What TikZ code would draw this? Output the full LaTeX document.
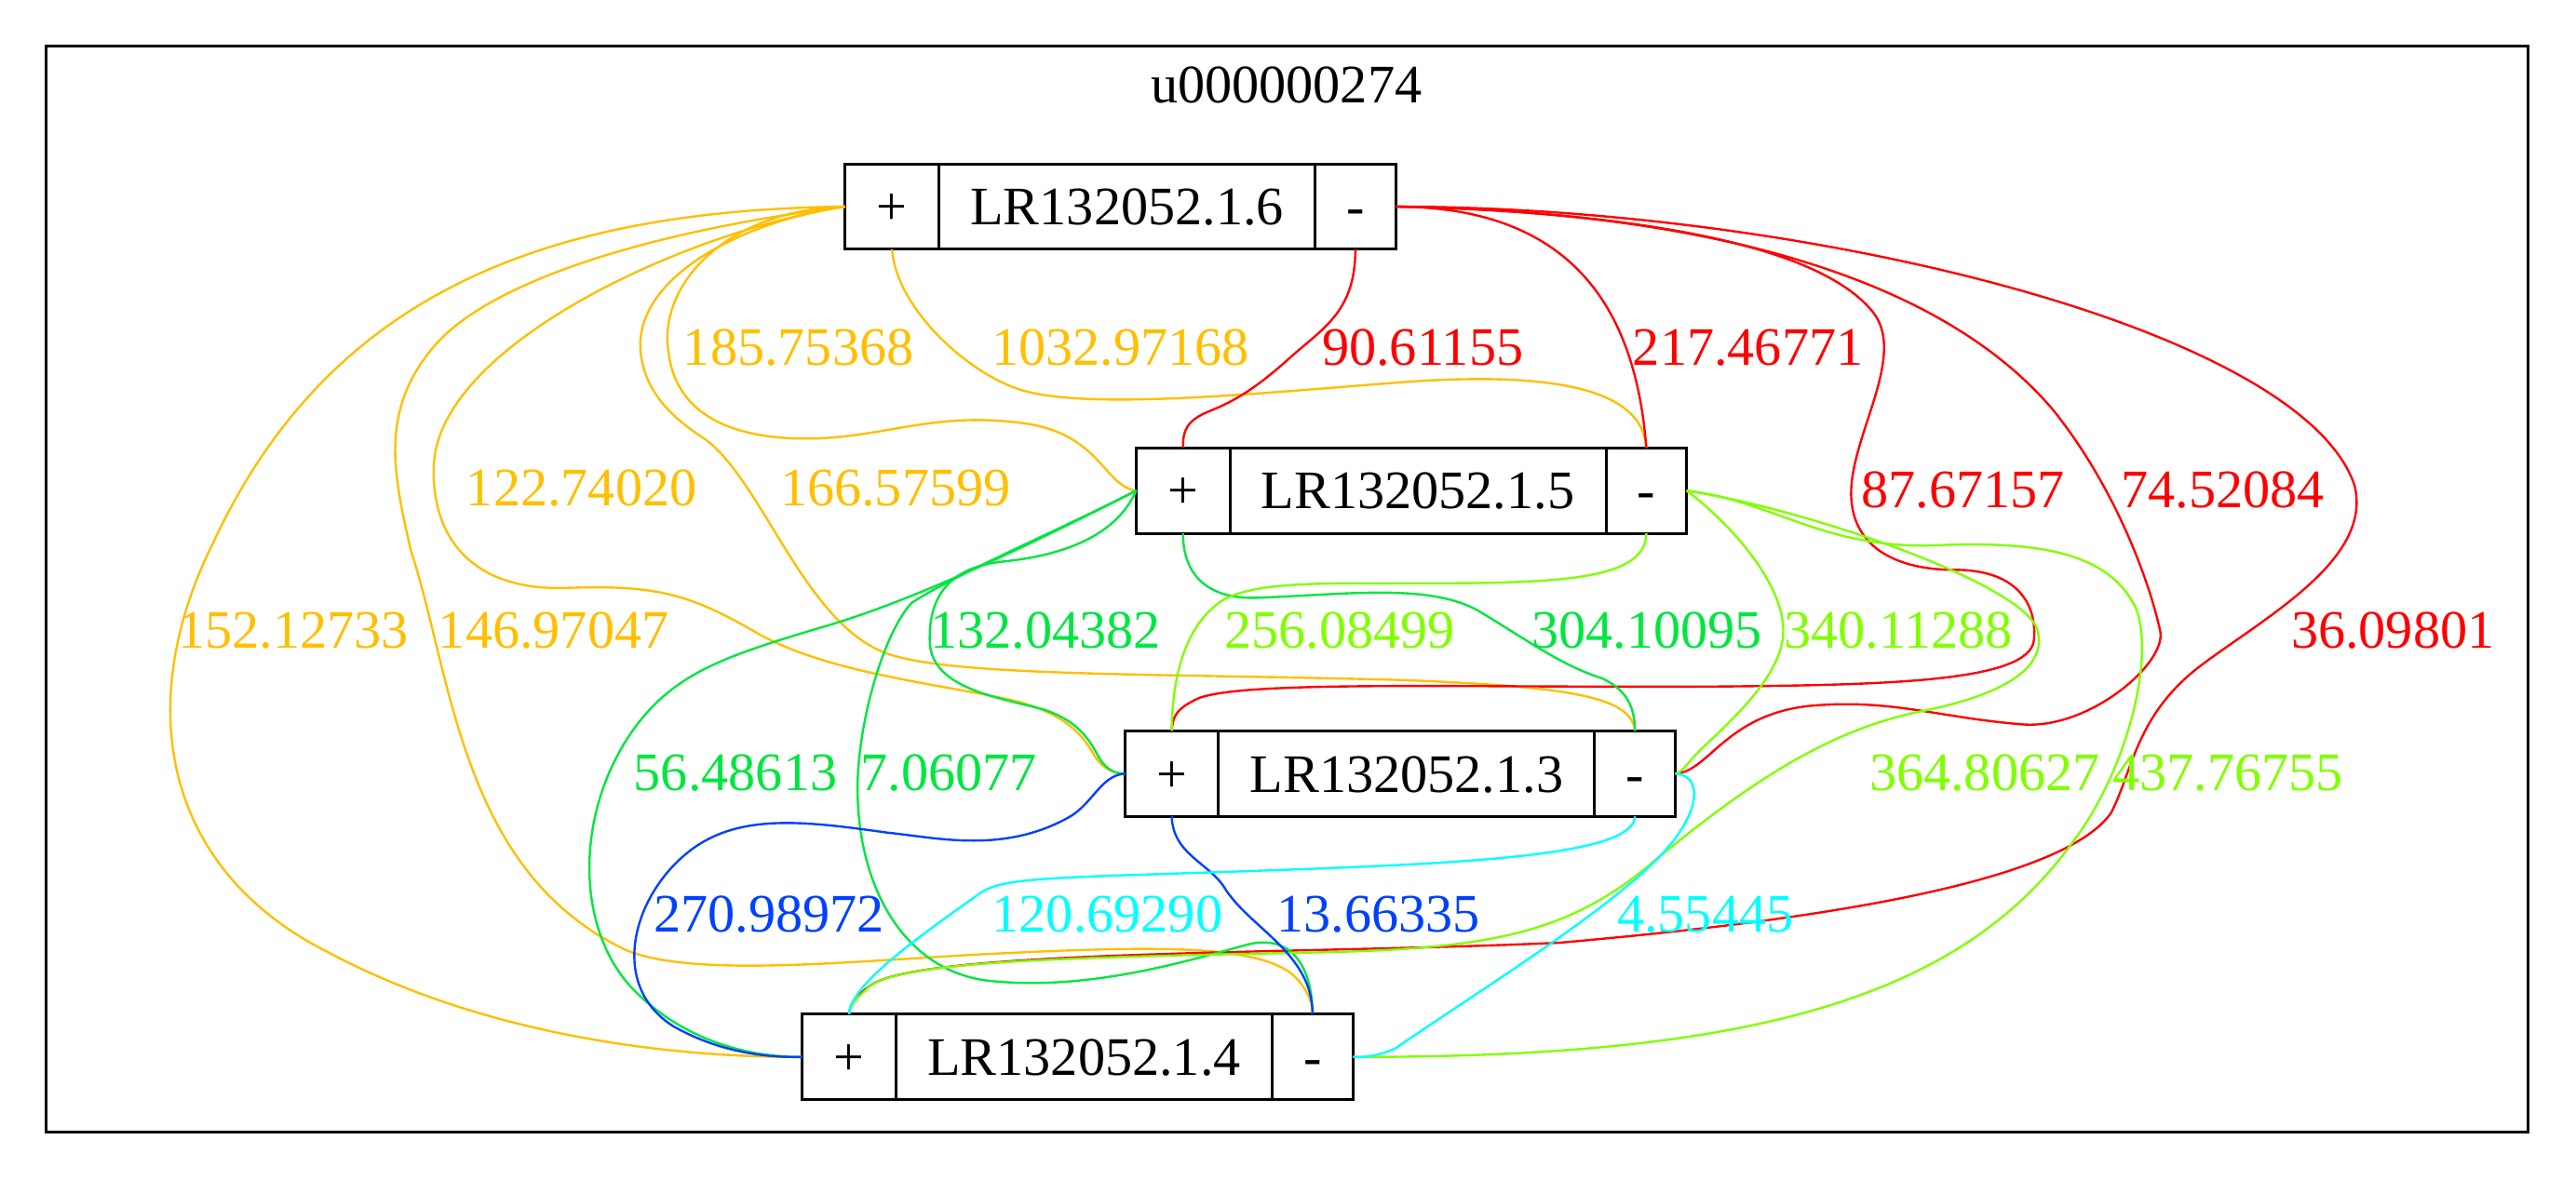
\documentclass[tikz,border=0pt]{standalone}
\usepackage{fontspec}
\setmainfont{Liberation Serif}
\definecolor{cOr}{RGB}{255,191,0}
\definecolor{cRd}{RGB}{255,0,0}
\definecolor{cGr}{RGB}{0,230,64}
\definecolor{cCh}{RGB}{128,255,0}
\definecolor{cBl}{RGB}{0,64,255}
\definecolor{cCy}{RGB}{0,255,255}
\tikzset{
  cell/.style={draw, line width=1.7pt, minimum height=52pt, inner sep=0pt, outer sep=0pt,
    text height=22.3pt, text depth=0pt},
  pcell/.style={cell, minimum width=57pt},
  ncell/.style={cell, minimum width=229pt},
  mcell/.style={cell, minimum width=49pt},
  conn/.style={line width=1.35pt},
  lab/.style={inner sep=0pt},
}
\begin{document}
\begin{tikzpicture}[x=1pt, y=-1pt, font=\fontsize{33}{40}\selectfont]
\useasboundingbox (0,0) rectangle (1568,718);
\draw[line width=1.8pt] (28,28) rectangle (1539,689.5);
\node[lab] (title) at (783,52) {u000000274};

% records
\node[ncell] (n6) at (686,125.8) {LR132052.1.6};
\node[pcell, anchor=east] (n6p) at (n6.west) {+};
\node[mcell, anchor=west] (n6m) at (n6.east) {-};

\node[ncell] (n5) at (863.1,298.8) {LR132052.1.5};
\node[pcell, anchor=east] (n5p) at (n5.west) {+};
\node[mcell, anchor=west] (n5m) at (n5.east) {-};

\node[ncell] (n3) at (856.2,471.1) {LR132052.1.3};
\node[pcell, anchor=east] (n3p) at (n3.west) {+};
\node[mcell, anchor=west] (n3m) at (n3.east) {-};

\node[ncell] (n4) at (659.9,643.6) {LR132052.1.4};
\node[pcell, anchor=east] (n4p) at (n4.west) {+};
\node[mcell, anchor=west] (n4m) at (n4.east) {-};

% orange edges
\draw[conn, cOr] (n6p.south) .. controls (545,185) and (585,225) .. (620,237)
  .. controls (660,250) and (760,240) .. (850,233)
  .. controls (940,226) and (1000,235) .. (n5m.north);
\draw[conn, cOr] (n6p.west) .. controls (440,128) and (400,175) .. (407,215)
  .. controls (412,255) and (450,268) .. (495,267)
  .. controls (540,266) and (570,250) .. (625,258)
  .. controls (670,265) and (672,296) .. (n5p.west);
\draw[conn, cOr] (n6p.west) .. controls (450,135) and (385,170) .. (390,215)
  .. controls (393,240) and (410,255) .. (430,268)
  .. controls (465,295) and (490,380) .. (540,398)
  .. controls (580,412) and (700,410) .. (850,414)
  .. controls (960,418) and (993,425) .. (n3m.north);
\draw[conn, cOr] (n6p.west) .. controls (420,140) and (265,210) .. (264,285)
  .. controls (263,330) and (290,360) .. (345,358)
  .. controls (400,356) and (420,362) .. (460,385)
  .. controls (500,408) and (560,415) .. (610,425)
  .. controls (650,433) and (660,450) .. (665,458)
  .. controls (670,468) and (678,471) .. (n3p.west);
\draw[conn, cOr] (n6p.west) .. controls (400,140) and (300,170) .. (265,210)
  .. controls (230,250) and (240,290) .. (250,335)
  .. controls (275,410) and (280,530) .. (380,578)
  .. controls (420,596) and (520,585) .. (600,581)
  .. controls (700,576) and (760,575) .. (785,592)
  .. controls (795,600) and (799,610) .. (n4m.north);
\draw[conn, cOr] (n6p.west) .. controls (330,128) and (200,180) .. (130,330)
  .. controls (80,430) and (100,530) .. (200,580)
  .. controls (290,628) and (400,644) .. (n4p.west);

% red edges
\draw[conn, cRd] (n6m.south) .. controls (825,190) and (805,200) .. (785,218)
  .. controls (765,236) and (752,244) .. (737,250)
  .. controls (722,256) and (720,262) .. (n5p.north);
\draw[conn, cRd] (n6m.east) .. controls (950,126) and (995,180) .. (n5m.north);
\draw[conn, cRd] (n6m.east) .. controls (950,128) and (1100,140) .. (1140,190)
  .. controls (1160,215) and (1130,260) .. (1127,295)
  .. controls (1124,330) and (1150,347) .. (1190,347)
  .. controls (1230,347) and (1240,370) .. (1238,390)
  .. controls (1235,415) and (1150,417) .. (1050,418)
  .. controls (900,419) and (760,414) .. (730,425)
  .. controls (714,432) and (714,438) .. (n3p.north);
\draw[conn, cRd] (n6m.east) .. controls (1000,128) and (1170,155) .. (1250,250)
  .. controls (1290,300) and (1310,360) .. (1315,385)
  .. controls (1318,405) and (1270,445) .. (1230,441)
  .. controls (1180,437) and (1150,425) .. (1100,430)
  .. controls (1050,436) and (1040,470) .. (n3m.east);
\draw[conn, cRd] (n6m.east) .. controls (1100,126) and (1400,200) .. (1433,295)
  .. controls (1445,340) and (1380,375) .. (1340,405)
  .. controls (1300,435) and (1298,470) .. (1285,495)
  .. controls (1250,545) and (1050,565) .. (950,574)
  .. controls (800,581) and (560,578) .. (530,600)
  .. controls (520,607) and (517,612) .. (n4p.north);

% green edges
\draw[conn, cGr] (n5p.west) .. controls (640,325) and (560,365) .. (500,382)
  .. controls (440,400) and (410,410) .. (385,445)
  .. controls (350,495) and (350,565) .. (385,602)
  .. controls (415,633) and (455,644) .. (n4p.west);
\draw[conn, cGr] (n5p.west) .. controls (640,325) and (585,348) .. (555,367)
  .. controls (538,385) and (522,440) .. (522,480)
  .. controls (522,540) and (550,590) .. (600,597)
  .. controls (660,604) and (720,586) .. (760,575)
  .. controls (790,568) and (799,595) .. (n4m.north);
\draw[conn, cGr] (n5p.west) .. controls (680,325) and (650,338) .. (610,342)
  .. controls (572,346) and (565,370) .. (566,392)
  .. controls (568,420) and (610,425) .. (635,432)
  .. controls (660,440) and (665,455) .. (670,463)
  .. controls (675,470) and (680,471) .. (n3p.west);
\draw[conn, cGr] (n5p.south) .. controls (720,350) and (735,365) .. (765,364)
  .. controls (820,362) and (870,355) .. (900,372)
  .. controls (930,390) and (950,405) .. (975,413)
  .. controls (990,420) and (995,430) .. (n3m.north);

% chartreuse edges
\draw[conn, cCh] (n5m.south) .. controls (1002,350) and (960,354) .. (900,355)
  .. controls (820,356) and (770,352) .. (745,365)
  .. controls (718,382) and (713.5,420) .. (n3p.north);
\draw[conn, cCh] (n5m.east) .. controls (1055,320) and (1090,360) .. (1085,390)
  .. controls (1080,420) and (1040,450) .. (1030,462)
  .. controls (1025,468) and (1022,471) .. (n3m.east);
\draw[conn, cCh] (n5m.east) .. controls (1100,310) and (1230,355) .. (1240,383)
  .. controls (1248,410) and (1210,425) .. (1170,433)
  .. controls (1110,445) and (1060,480) .. (1000,530)
  .. controls (950,570) and (900,578) .. (800,580)
  .. controls (650,583) and (540,585) .. (527,603)
  .. controls (520,609) and (517,613) .. (n4p.north);
\draw[conn, cCh] (n5m.east) .. controls (1080,305) and (1110,335) .. (1180,332)
  .. controls (1250,329) and (1285,340) .. (1300,370)
  .. controls (1312,400) and (1295,470) .. (1260,515)
  .. controls (1190,610) and (1060,644) .. (n4m.east);

% blue edges
\draw[conn, cBl] (n3p.west) .. controls (670,472) and (665,490) .. (650,498)
  .. controls (610,520) and (570,510) .. (540,507)
  .. controls (490,500) and (450,495) .. (420,518)
  .. controls (385,545) and (370,600) .. (410,625)
  .. controls (440,642) and (470,644) .. (n4p.west);
\draw[conn, cBl] (n3p.south) .. controls (714,520) and (735,525) .. (745,540)
  .. controls (760,565) and (799,580) .. (n4m.north);

% cyan edges
\draw[conn, cCy] (n3m.south) .. controls (995,520) and (900,525) .. (800,529)
  .. controls (640,535) and (610,533) .. (595,545)
  .. controls (560,570) and (517,600) .. (n4p.north);
\draw[conn, cCy] (n3m.east) .. controls (1035,472) and (1035,490) .. (1020,510)
  .. controls (995,545) and (905,600) .. (850,638)
  .. controls (840,643) and (830,644) .. (n4m.east);

% labels
\node[lab, text=cOr] (l1) at (486,211.5) {185.75368};
\node[lab, text=cOr] (l2) at (682,211.5) {1032.97168};
\node[lab, text=cRd] (l3) at (866,211.5) {90.61155};
\node[lab, text=cRd] (l4) at (1064,211.5) {217.46771};
\node[lab, text=cOr] (l5) at (354,297.5) {122.74020};
\node[lab, text=cOr] (l6) at (545,297.5) {166.57599};
\node[lab, text=cRd] (l7) at (1195,298.5) {87.67157};
\node[lab, text=cRd] (l8) at (1353,298.5) {74.52084};
\node[lab, text=cOr] (l9) at (178.5,384) {152.12733};
\node[lab, text=cOr] (l10) at (337,384) {146.97047};
\node[lab, text=cGr] (l11) at (636.5,384) {132.04382};
\node[lab, text=cCh] (l12) at (815.5,384) {256.08499};
\node[lab, text=cGr] (l13) at (1002.5,384) {304.10095};
\node[lab, text=cCh] (l14) at (1155.5,384) {340.11288};
\node[lab, text=cRd] (l15) at (1456.5,384) {36.09801};
\node[lab, text=cGr] (l16) at (447.7,470.6) {56.48613};
\node[lab, text=cGr] (l17) at (577.7,470.6) {7.06077};
\node[lab, text=cCh] (l18) at (1208,470.5) {364.80627};
\node[lab, text=cCh] (l19) at (1356,470.5) {437.76755};
\node[lab, text=cBl] (l20) at (468,556.8) {270.98972};
\node[lab, text=cCy] (l21) at (674,556.8) {120.69290};
\node[lab, text=cBl] (l22) at (839,556.8) {13.66335};
\node[lab, text=cCy] (l23) at (1038,556.8) {4.55445};
\end{tikzpicture}
\end{document}
